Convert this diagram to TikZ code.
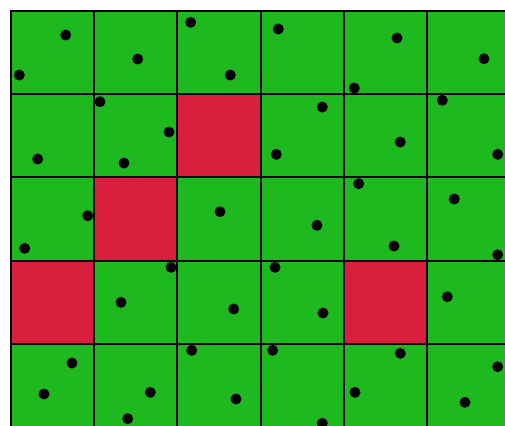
\documentclass[tikz,border=0pt]{standalone}
\definecolor{cellgreen}{RGB}{30,185,30}
\definecolor{cellred}{RGB}{218,30,62}
\begin{document}
\begin{tikzpicture}[x=1pt,y=-1pt,
  gridline/.style={line width=2pt,black},
  dotmark/.style={fill=black}]
\useasboundingbox (0,0) rectangle (505,425);
\clip (0,0) rectangle (505,425);
\fill[white] (0,0) rectangle (505,425);
\fill[cellgreen] (10.7,10.7) rectangle (520,440);
\foreach \c/\r in {2/1,1/2,0/3,4/3}
  \fill[cellred] ({10.7+83.33*\c},{10.7+83.33*\r}) rectangle ++(83.33,83.33);
\foreach \i in {0,...,6} {
  \draw[gridline] ({10.7+83.33*\i},9.7) -- ({10.7+83.33*\i},440);
  \draw[gridline] (9.7,{10.7+83.33*\i}) -- (520,{10.7+83.33*\i});
}
\foreach \x/\y in {
  65.7/35, 19.3/75, 137.7/59, 190.7/22.3, 230.3/75,
  278.3/29, 397/38, 484/58.7, 354.3/88,
  100/101.7, 169/132, 37.7/159, 124/163,
  322.3/107, 442.3/100.3, 276.3/154.3, 400.3/142, 497.7/154.3,
  87.7/215.7, 24.7/248.3, 220/211.7,
  358.7/183.7, 454.3/199,
  317/225.3, 394/246, 497.7/254.7,
  171/267.3, 121/302.3, 233.7/309,
  275/267.3, 323/313, 447.3/296.7,
  72/363, 44/394, 191.7/350.3, 150.3/392.3, 127.7/418.7, 236/399,
  272.7/350.3, 400.3/353.3, 497.7/366.7, 355/392.3, 465/402.3, 322.3/423.3}
  \fill[dotmark] (\x,\y) circle (5.5pt);
\end{tikzpicture}
\end{document}
